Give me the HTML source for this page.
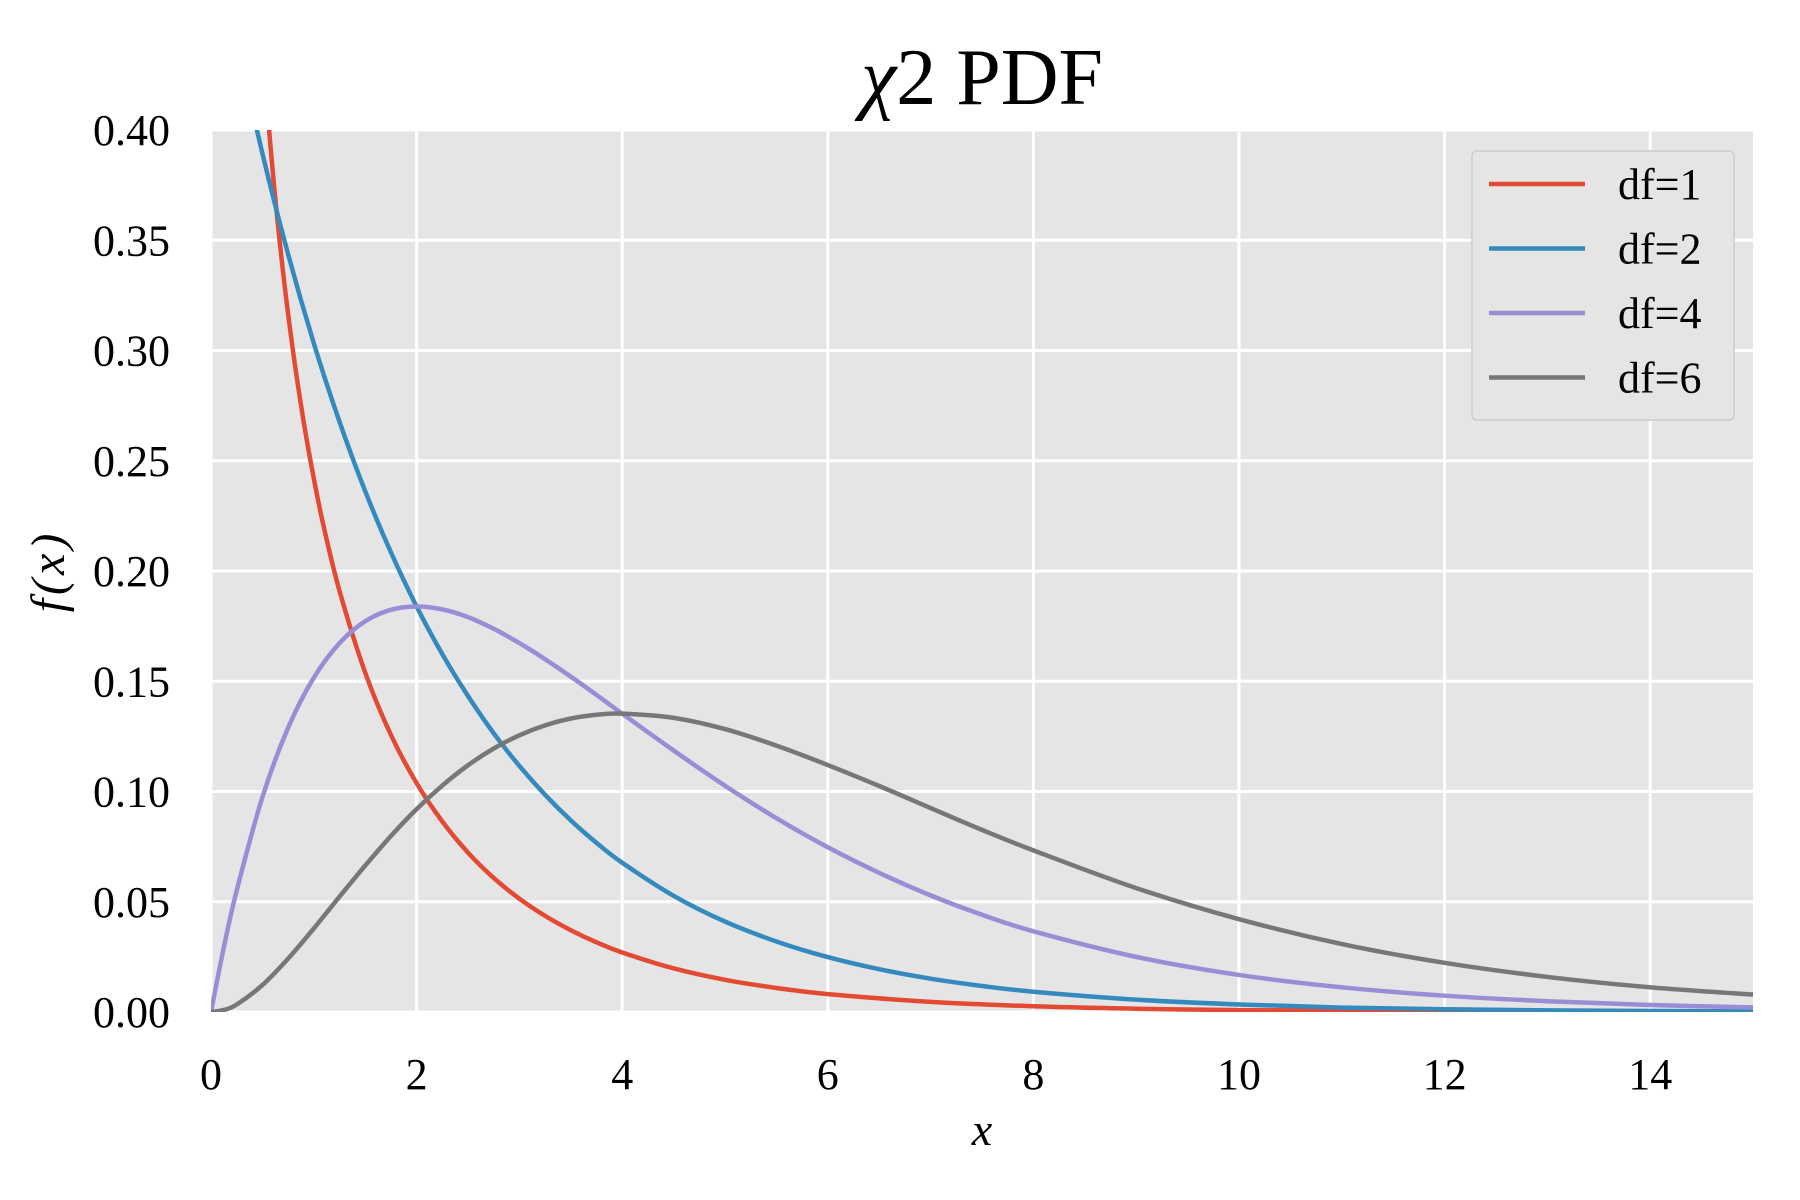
<!DOCTYPE html>
<html><head><meta charset="utf-8"><style>
html,body{margin:0;padding:0;background:#fff;}
svg{display:block;font-family:"Liberation Serif","DejaVu Serif",serif;}
</style></head><body>
<svg id="chart" width="1800" height="1200" viewBox="0 0 1800 1200">
<defs><clipPath id="clip"><rect x="211" y="130" width="1542" height="882"/></clipPath></defs>
<rect x="211" y="130" width="1542" height="882" fill="#E5E5E5"/>
<g id="grid"></g>
<g id="lines" clip-path="url(#clip)"></g>
<g id="ticks"></g>
<text x="982" y="104" font-size="80" text-anchor="middle"><tspan font-style="italic">χ</tspan>2 PDF</text>
<text x="982" y="1145" font-size="46" font-style="italic" text-anchor="middle">x</text>
<text transform="translate(64,571) rotate(-90)" font-size="48" font-style="italic" letter-spacing="4" text-anchor="middle">f(x)</text>
<g id="legend">
<rect x="1472" y="151" width="262" height="269" rx="5" fill="#E5E5E5" stroke="#CCCCCC" stroke-width="1.5"/>
</g>
</svg>
<script>
const xTicks=[0,2,4,6,8,10,12,14];
const xTickLabels=["0","2","4","6","8","10","12","14"];
const yTicks=[0,0.05,0.1,0.15,0.2,0.25,0.3,0.35,0.4];
const yTickLabels=["0.00","0.05","0.10","0.15","0.20","0.25","0.30","0.35","0.40"];
const seriesNames=["df=1","df=2","df=4","df=6"];
const seriesColors=["#E24A33","#348ABD","#988ED5","#777777"];
const x1=[0.3,0.4,0.5,0.6,0.7,0.8,0.9,1,1.1,1.25,1.5,1.75,2,2.25,2.5,2.75,3,3.25,3.5,3.75,4,4.5,5,5.5,6,7,8,9,10,12,15];
const df1=[0.627,0.5164,0.4394,0.3815,0.336,0.299,0.2681,0.242,0.2194,0.191,0.1539,0.1257,0.1038,0.0864,0.0723,0.0608,0.0514,0.0436,0.0371,0.0316,0.027,0.0198,0.0146,0.0109,0.0081,0.0046,0.0026,0.0015,0.00085,0.00029,0.00006];
const xs=[0,0.125,0.25,0.5,0.75,1,1.25,1.5,1.75,2,2.25,2.5,2.75,3,3.25,3.5,3.75,4,4.5,5,5.5,6,6.5,7,7.5,8,9,10,11,12,13,14,15];
const df2=[0.5,0.4697,0.4412,0.3894,0.3437,0.3033,0.2677,0.2362,0.2085,0.1839,0.1623,0.1433,0.1264,0.1116,0.0985,0.0869,0.0767,0.0677,0.0527,0.041,0.032,0.0249,0.0194,0.0151,0.0118,0.0092,0.0056,0.0034,0.002,0.00124,0.00075,0.00046,0.00028];
const df4=[0,0.0294,0.0551,0.0974,0.1289,0.1516,0.1673,0.1772,0.1824,0.1839,0.1826,0.1791,0.1738,0.1673,0.16,0.1521,0.1438,0.1353,0.1186,0.1026,0.0879,0.0747,0.0631,0.0529,0.0441,0.0366,0.025,0.0168,0.0112,0.0074,0.0049,0.0032,0.0021];
const df6=[0,0.00092,0.0034,0.0122,0.0242,0.0379,0.0523,0.0664,0.0798,0.092,0.1027,0.1119,0.1195,0.1255,0.13,0.1331,0.1348,0.1353,0.1334,0.1283,0.1208,0.112,0.1025,0.0925,0.0826,0.0733,0.0562,0.0421,0.0308,0.0223,0.0159,0.0112,0.0079];

const NS="http://www.w3.org/2000/svg";
const X0=211,X1=1753,Y0=1012,Y1=130;
const sx=v=>X0+(v-0)/(15-0)*(X1-X0);
const sy=v=>Y0-(v-0)/(0.4-0)*(Y0-Y1);
function mk(tag,attrs,parent){const e=document.createElementNS(NS,tag);for(const k in attrs)e.setAttribute(k,attrs[k]);parent.appendChild(e);return e;}
const grid=document.getElementById('grid'),ticks=document.getElementById('ticks');
xTicks.forEach((t,i)=>{
  const l=mk('line',{x1:sx(t),x2:sx(t),y1:Y1,y2:Y0,stroke:'#fff','stroke-width':3},grid);
  
  
  const tx=mk('text',{x:sx(t),y:1089,'font-size':44,'text-anchor':'middle'},ticks);
  tx.textContent=xTickLabels[i];
  
  
});
yTicks.forEach((t,i)=>{
  const l=mk('line',{x1:X0,x2:X1,y1:sy(t),y2:sy(t),stroke:'#fff','stroke-width':3},grid);
  
  
  const tx=mk('text',{x:170,y:sy(t)+15,'font-size':44,'text-anchor':'end'},ticks);
  tx.textContent=yTickLabels[i];
  
  
});
function pathFor(xv,yv){
  const p=xv.map((x,i)=>[sx(x),sy(yv[i])]);
  let d='M'+p[0][0]+','+p[0][1];
  for(let i=0;i<p.length-1;i++){
    const a=p[Math.max(0,i-1)],b=p[i],c=p[i+1],e=p[Math.min(p.length-1,i+2)];
    const c1=[b[0]+(c[0]-a[0])/6,b[1]+(c[1]-a[1])/6];
    const c2=[c[0]-(e[0]-b[0])/6,c[1]-(e[1]-b[1])/6];
    d+=' C'+c1[0]+','+c1[1]+' '+c2[0]+','+c2[1]+' '+c[0]+','+c[1];
  }
  return d;
}
const lines=document.getElementById('lines');
const sets=[[x1,df1],[xs,df2],[xs,df4],[xs,df6]];
sets.forEach((s,i)=>{
  const p=mk('path',{d:pathFor(s[0],s[1]),fill:'none',stroke:seriesColors[i],'stroke-width':4.5,'stroke-linejoin':'round'},lines);
  
  
});
const legend=document.getElementById('legend');
seriesNames.forEach((n,i)=>{
  const y=184+i*64.5;
  const l=mk('line',{x1:1489,x2:1585,y1:y,y2:y,stroke:seriesColors[i],'stroke-width':4.5},legend);
  
  
  const t=mk('text',{x:1618,y:y+15,'font-size':44},legend);
  t.textContent=n;
  
  
});
</script>
</body></html>
